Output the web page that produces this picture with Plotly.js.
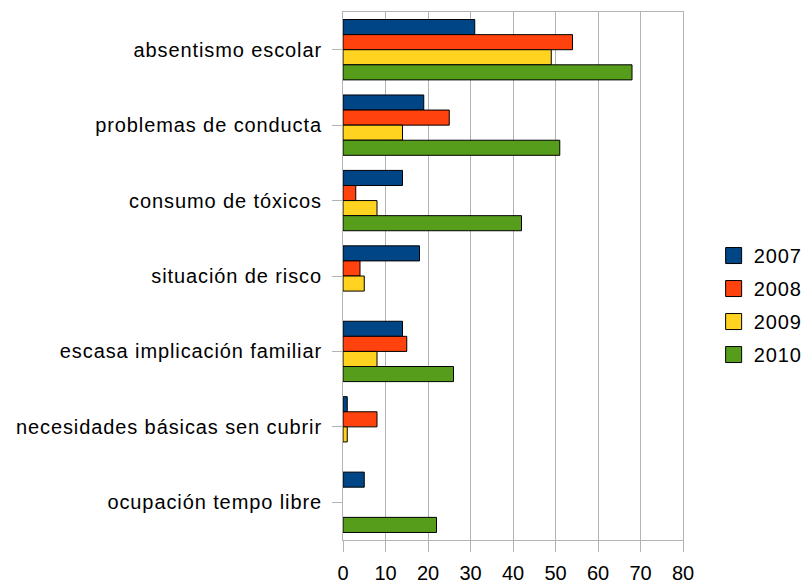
<!DOCTYPE html>
<html>
<head>
<meta charset="utf-8">
<script src="https://cdn.plot.ly/plotly-3.0.1.min.js"></script>
<style>
html,body{margin:0;padding:0;background:#fff;}
#chart{width:804px;height:586px;}
#chart .ytick text, #chart .legendtext {letter-spacing:0.9px;}
</style>
</head>
<body>
<div id="chart"></div>
<script>
var categories = ["absentismo escolar", "problemas de conducta", "consumo de tóxicos", "situación de risco", "escasa implicación familiar", "necesidades básicas sen cubrir", "ocupación tempo libre"];
var years = ["2007", "2008", "2009", "2010"];
var v2007 = [31, 19, 14, 18, 14, 1, 5];
var v2008 = [54, 25, 3, 4, 15, 8, 0];
var v2009 = [49, 14, 8, 5, 8, 1, 0];
var v2010 = [68, 51, 42, 0, 26, 0, 22];
var colors = ["#004586", "#ff420e", "#ffd320", "#579d1c"];
var series = [v2007, v2008, v2009, v2010];

var traces = series.map(function (vals, i) {
  return {
    type: "bar",
    orientation: "h",
    name: years[i],
    y: categories,
    x: vals,
    legendgroup: "g" + i,
    marker: {
      color: colors[i],
      line: { color: "#000000", width: vals.map(function (v) { return v === 0 ? 0 : 1; }) }
    },
    hoverinfo: "x+name"
  };
});

var layout = {
  width: 804,
  height: 586,
  margin: { l: 343, r: 0, t: 12, b: 46 },
  paper_bgcolor: "#ffffff",
  plot_bgcolor: "#ffffff",
  font: { family: "Liberation Sans, Arial, sans-serif", size: 20, color: "#000000" },
  barmode: "group",
  bargap: 0.2,
  bargroupgap: 0,
  showlegend: true,
  legend: {
    x: 0.811, xanchor: "left",
    y: 0.445, yanchor: "middle",
    font: { size: 20 },
    traceorder: "grouped",
    tracegroupgap: 4,
    itemwidth: 30,
    bgcolor: "rgba(0,0,0,0)"
  },
  xaxis: {
    domain: [0, 343 / 461],
    range: [0, 80],
    dtick: 10,
    tick0: 0,
    showgrid: true,
    gridcolor: "#b3b3b3",
    gridwidth: 1,
    zeroline: false,
    showline: true,
    linecolor: "#b3b3b3",
    linewidth: 1,
    mirror: true,
    ticks: "outside",
    ticklen: 11,
    tickcolor: "#b3b3b3",
    ticklabelstandoff: 4,
    tickfont: { size: 20 }
  },
  yaxis: {
    type: "category",
    autorange: "reversed",
    showgrid: false,
    zeroline: false,
    showline: true,
    linecolor: "#b3b3b3",
    linewidth: 1,
    mirror: true,
    ticks: "outside",
    ticklen: 10,
    tickcolor: "#b3b3b3",
    ticklabelstandoff: 6,
    tickfont: { size: 20 }
  }
};

Plotly.newPlot("chart", traces, layout, { displayModeBar: false, staticPlot: true }).then(function (gd) {
  var paths = gd.querySelectorAll(".legend .legendpoints path");
  paths.forEach(function (p) { p.setAttribute("d", "M8,8H-8V-8H8Z"); p.style.strokeWidth = "1px"; });
});
</script>
</body>
</html>
